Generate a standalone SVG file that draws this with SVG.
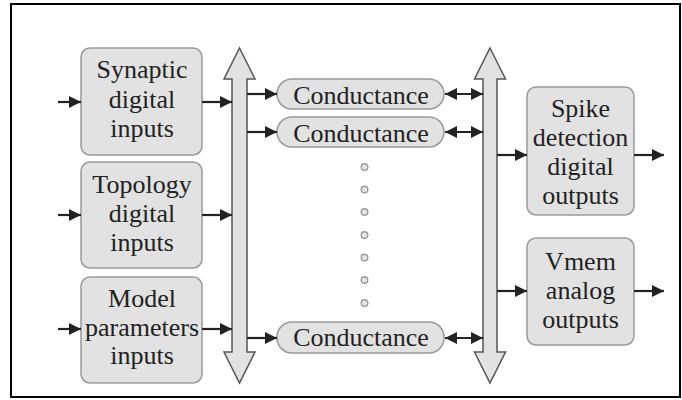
<svg xmlns="http://www.w3.org/2000/svg" width="682" height="400" viewBox="0 0 682 400">
<defs>
<style>
.box{fill:#e2e2e2;stroke:#9a9a9a;stroke-width:1.5}
.bus{fill:#e2e2e2;stroke:#555;stroke-width:1.5;stroke-linejoin:miter}
.t{font-size:26px;fill:#222;text-anchor:middle}
.ln{stroke:#222;stroke-width:2.2;fill:none}
.dot{fill:#e4e4e4;stroke:#9a9a9a;stroke-width:1.4}
</style>
<marker id="ah" viewBox="0 0 12 12" refX="12" refY="6" markerWidth="12" markerHeight="12" markerUnits="userSpaceOnUse" orient="auto-start-reverse">
<path d="M0,0 L12,6 L0,12 z" fill="#222"/>
</marker>
</defs>
<rect x="0" y="0" width="682" height="400" fill="#fff"/>
<rect x="11" y="4" width="669" height="393" fill="none" stroke="#000" stroke-width="2"/>

<g id="bus-left"><path class="bus" d="M239.5,48 L255,79 L247,79 L247,352 L255,352 L239.5,383 L224,352 L232,352 L232,79 L224,79 Z"/></g>
<g id="bus-right"><path class="bus" d="M490,48 L505.5,79 L497,79 L497,352 L505.5,352 L490,383 L474.5,352 L483,352 L483,79 L474.5,79 Z"/></g>

<g font-family="Liberation Serif, Times New Roman, DejaVu Serif, serif">
<g id="synaptic"><rect class="box" x="81" y="48" width="121" height="107" rx="9"/>
<text class="t" x="142" y="78">Synaptic</text><text class="t" x="142" y="108">digital</text><text class="t" x="142" y="137">inputs</text></g>
<g id="topology"><rect class="box" x="81" y="162" width="121" height="106" rx="9"/>
<text class="t" x="142" y="193">Topology</text><text class="t" x="142" y="222">digital</text><text class="t" x="142" y="251">inputs</text></g>
<g id="model"><rect class="box" x="81" y="277" width="121" height="106" rx="9"/>
<text class="t" x="142" y="307">Model</text><text class="t" x="142" y="336">parameters</text><text class="t" x="142" y="364">inputs</text></g>

<g id="cond1"><rect class="box" x="277" y="79" width="167" height="30" rx="15"/><text class="t" x="361" y="104">Conductance</text></g>
<g id="cond2"><rect class="box" x="277" y="117" width="167" height="30" rx="15"/><text class="t" x="361" y="142">Conductance</text></g>
<g id="cond3"><rect class="box" x="277" y="322" width="167" height="31" rx="15"/><text class="t" x="361" y="346">Conductance</text></g>

<g id="spike"><rect class="box" x="527" y="87" width="107" height="128" rx="9"/>
<text class="t" x="580.5" y="117">Spike</text><text class="t" x="580.5" y="146">detection</text><text class="t" x="580.5" y="175">digital</text><text class="t" x="580.5" y="204">outputs</text></g>
<g id="vmem"><rect class="box" x="527" y="238" width="107" height="107" rx="9"/>
<text class="t" x="580.5" y="270">Vmem</text><text class="t" x="580.5" y="299">analog</text><text class="t" x="580.5" y="328">outputs</text></g>
</g>

<g id="dots">
<circle class="dot" cx="364.5" cy="167" r="3.3"/><circle class="dot" cx="364.5" cy="189.5" r="3.3"/><circle class="dot" cx="364.5" cy="212" r="3.3"/><circle class="dot" cx="364.5" cy="235" r="3.3"/><circle class="dot" cx="364.5" cy="257.5" r="3.3"/><circle class="dot" cx="364.5" cy="280" r="3.3"/><circle class="dot" cx="364.5" cy="303" r="3.3"/>
</g>

<g id="connectors">
<line class="ln" x1="58" y1="102" x2="81" y2="102" marker-end="url(#ah)"/>
<line class="ln" x1="58" y1="215" x2="81" y2="215" marker-end="url(#ah)"/>
<line class="ln" x1="58" y1="329" x2="81" y2="329" marker-end="url(#ah)"/>
<line class="ln" x1="202" y1="102" x2="232" y2="102" marker-end="url(#ah)"/>
<line class="ln" x1="202" y1="215" x2="232" y2="215" marker-end="url(#ah)"/>
<line class="ln" x1="202" y1="329" x2="232" y2="329" marker-end="url(#ah)"/>
<line class="ln" x1="247" y1="94" x2="277" y2="94" marker-end="url(#ah)"/>
<line class="ln" x1="247" y1="132" x2="277" y2="132" marker-end="url(#ah)"/>
<line class="ln" x1="247" y1="338" x2="277" y2="338" marker-end="url(#ah)"/>
<line class="ln" x1="445" y1="94" x2="483" y2="94" marker-start="url(#ah)" marker-end="url(#ah)"/>
<line class="ln" x1="445" y1="132" x2="483" y2="132" marker-start="url(#ah)" marker-end="url(#ah)"/>
<line class="ln" x1="445" y1="338" x2="483" y2="338" marker-start="url(#ah)" marker-end="url(#ah)"/>
<line class="ln" x1="497" y1="155" x2="527" y2="155" marker-end="url(#ah)"/>
<line class="ln" x1="497" y1="291" x2="527" y2="291" marker-end="url(#ah)"/>
<line class="ln" x1="634" y1="155" x2="664" y2="155" marker-end="url(#ah)"/>
<line class="ln" x1="634" y1="291" x2="664" y2="291" marker-end="url(#ah)"/>
</g>
</svg>
